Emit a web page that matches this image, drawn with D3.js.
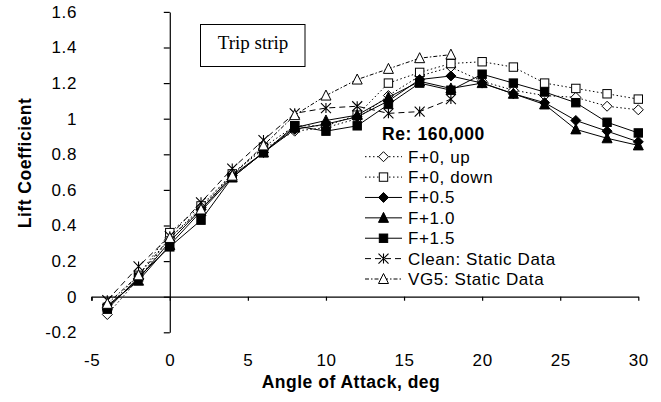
<!DOCTYPE html>
<html>
<head>
<meta charset="utf-8">
<script src="https://cdn.jsdelivr.net/npm/d3@7"></script>
<style>
  html, body { margin: 0; padding: 0; background: #fff; }
  svg text { font-family: "Liberation Sans", Arial, Helvetica, sans-serif; fill: #000; }
</style>
</head>
<body>
<svg id="chart" width="661" height="402"></svg>
<script>
// Angle of attack (deg) for the trip-strip runs
const angles = [-4, -2, 0, 2, 4, 6, 8, 10, 12, 14, 16, 18, 20, 22, 24, 26, 28, 30];
// Static reference runs stop at 18 deg
const staticAngles = [-4, -2, 0, 2, 4, 6, 8, 10, 12, 14, 16, 18];

const f0Up   = [-0.10, 0.10, 0.33, 0.50, 0.69, 0.83, 0.93, 0.95, 1.00, 1.13, 1.24, 1.29, 1.21, 1.16, 1.13, 1.12, 1.07, 1.05];
const f0Down = [-0.06, 0.12, 0.36, 0.51, 0.69, 0.84, 0.96, 0.96, 1.02, 1.20, 1.26, 1.31, 1.32, 1.29, 1.20, 1.17, 1.14, 1.11];
const f05    = [-0.06, 0.10, 0.31, 0.49, 0.68, 0.81, 0.94, 0.97, 1.01, 1.10, 1.22, 1.24, 1.20, 1.14, 1.09, 0.99, 0.93, 0.87];
const f10    = [-0.05, 0.09, 0.29, 0.48, 0.67, 0.81, 0.95, 0.99, 1.02, 1.12, 1.21, 1.17, 1.20, 1.14, 1.08, 0.94, 0.89, 0.85];
const f15    = [-0.07, 0.11, 0.28, 0.43, 0.67, 0.81, 0.96, 0.93, 0.96, 1.08, 1.20, 1.16, 1.25, 1.20, 1.15, 1.09, 0.98, 0.92];
const cleanStatic = [-0.02, 0.17, 0.34, 0.53, 0.72, 0.88, 1.03, 1.06, 1.07, 1.03, 1.04, 1.11];
const vg5Static   = [-0.04, 0.12, 0.33, 0.49, 0.68, 0.85, 1.02, 1.13, 1.22, 1.28, 1.34, 1.36];

const seriesNames = ["F+0, up", "F+0, down", "F+0.5", "F+1.0", "F+1.5", "Clean: Static Data", "VG5: Static Data"];
const xTicks = [-5, 0, 5, 10, 15, 20, 25, 30];
const yTicks = [-0.2, 0, 0.2, 0.4, 0.6, 0.8, 1, 1.2, 1.4, 1.6];
const legendTitle = "Re: 160,000";
const noteText = "Trip strip";

const svg = d3.select("#chart");

const x = d3.scaleLinear().domain([-5, 30]).range([91.7, 638.3]);
const y = d3.scaleLinear().domain([-0.2, 1.6]).range([332.3, 11.9]);

const dotted = "1.5,2.5";
const series = [
  { name: seriesNames[0], xs: angles, ys: f0Up,   marker: "diamond",  fill: "#fff", dash: dotted },
  { name: seriesNames[1], xs: angles, ys: f0Down, marker: "square",   fill: "#fff", dash: dotted },
  { name: seriesNames[2], xs: angles, ys: f05,    marker: "diamond",  fill: "#000", dash: null },
  { name: seriesNames[3], xs: angles, ys: f10,    marker: "triangle", fill: "#000", dash: null },
  { name: seriesNames[4], xs: angles, ys: f15,    marker: "square",   fill: "#000", dash: null },
  { name: seriesNames[5], xs: staticAngles, ys: cleanStatic, marker: "star", fill: "none", dash: "6,4" },
  { name: seriesNames[6], xs: staticAngles, ys: vg5Static,   marker: "triangle", fill: "#fff", dash: "4,2,1.5,2" }
];

// Plain hyphen-minus for negative tick labels
const fmt = d => String(+(+d).toFixed(1));

// Axes: x axis along Cl = 0, y axis at alpha = 0, labels pinned to the outer edges
const x0 = x(0), y0 = y(0);
const xAxis = svg.append("g")
  .attr("transform", `translate(0,${y0})`)
  .call(d3.axisBottom(x).tickValues(xTicks).tickSize(4).tickSizeOuter(0).tickFormat(fmt));
xAxis.select(".domain").attr("stroke", "#000").attr("stroke-width", 1.2);
xAxis.selectAll(".tick line").attr("stroke", "#000").attr("stroke-width", 1.2);
xAxis.selectAll(".tick text")
  .attr("y", 366 - y0).attr("dy", 0)
  .style("font-size", "17px").style("letter-spacing", "0.6px");

const yAxis = svg.append("g")
  .attr("transform", `translate(${x0},0)`)
  .call(d3.axisLeft(y).tickValues(yTicks).tickSize(6).tickSizeOuter(0).tickFormat(fmt));
yAxis.select(".domain").attr("stroke", "#000").attr("stroke-width", 1.2);
yAxis.selectAll(".tick line").attr("stroke", "#000").attr("stroke-width", 1.2);
yAxis.selectAll(".tick text")
  .attr("x", 77 - x0)
  .style("font-size", "17px").style("letter-spacing", "0.6px");
// small end tick at the left end of the x axis
svg.append("line").attr("x1", x(-5)).attr("x2", x(-5)).attr("y1", y0).attr("y2", y0 + 4)
  .attr("stroke", "#000").attr("stroke-width", 1.2);

// Axis titles
svg.append("text")
  .attr("x", 351).attr("y", 388)
  .attr("text-anchor", "middle")
  .style("font-size", "17.5px").style("font-weight", "bold").style("letter-spacing", "0.5px")
  .text("Angle of Attack, deg");
svg.append("text")
  .attr("transform", "translate(31,163) rotate(-90)")
  .attr("text-anchor", "middle")
  .style("font-size", "17.5px").style("font-weight", "bold").style("letter-spacing", "0.5px")
  .text("Lift Coefficient");

// Annotation box
svg.append("rect")
  .attr("x", 200.5).attr("y", 24.5).attr("width", 104.5).attr("height", 42)
  .attr("fill", "#fff").attr("stroke", "#000").attr("stroke-width", 1);
svg.append("text")
  .attr("x", 253).attr("y", 49).attr("text-anchor", "middle")
  .style("font-family", "'Liberation Serif', 'Times New Roman', serif")
  .style("font-size", "19px")
  .text(noteText);

// Marker shapes
function drawMarker(g, type, cx, cy, fill) {
  if (type === "diamond") {
    const r = 5;
    g.append("path").attr("d", `M${cx},${cy - r}L${cx + r},${cy}L${cx},${cy + r}L${cx - r},${cy}Z`)
      .attr("fill", fill).attr("stroke", "#000").attr("stroke-width", 1);
  } else if (type === "square") {
    const h = 4.2;
    g.append("rect").attr("x", cx - h).attr("y", cy - h).attr("width", 2 * h).attr("height", 2 * h)
      .attr("fill", fill).attr("stroke", "#000").attr("stroke-width", 1);
  } else if (type === "triangle") {
    const h = 5;
    g.append("path").attr("d", `M${cx},${cy - h - 0.5}L${cx + h},${cy + h - 0.5}L${cx - h},${cy + h - 0.5}Z`)
      .attr("fill", fill).attr("stroke", "#000").attr("stroke-width", 1);
  } else if (type === "star") {
    const h = 5;
    g.append("path")
      .attr("d", `M${cx - h},${cy - h}L${cx + h},${cy + h}M${cx - h},${cy + h}L${cx + h},${cy - h}M${cx},${cy - h}L${cx},${cy + h}`)
      .attr("fill", "none").attr("stroke", "#000").attr("stroke-width", 1.1);
  }
}

const line = d3.line().x(d => x(d[0])).y(d => y(d[1]));
const plot = svg.append("g");
series.forEach(s => {
  const pts = s.xs.map((a, i) => [a, s.ys[i]]);
  const g = plot.append("g");
  g.append("path").attr("d", line(pts))
    .attr("fill", "none").attr("stroke", "#000").attr("stroke-width", 1)
    .attr("stroke-dasharray", s.dash);
  pts.forEach(p => drawMarker(g, s.marker, x(p[0]), y(p[1]), s.fill));
});

// Legend
const legend = svg.append("g");
legend.append("text")
  .attr("x", 382).attr("y", 140)
  .style("font-size", "17.5px").style("font-weight", "bold").style("letter-spacing", "0.6px")
  .text(legendTitle);
const rowY = d3.scaleLinear().domain([0, 6]).range([156.7, 279]);
series.forEach((s, i) => {
  const cy = rowY(i);
  const g = legend.append("g");
  g.append("line").attr("x1", 365).attr("x2", 402).attr("y1", cy).attr("y2", cy)
    .attr("stroke", "#000").attr("stroke-width", 1).attr("stroke-dasharray", s.dash);
  drawMarker(g, s.marker, 383.5, cy, s.fill);
  g.append("text").attr("x", 408).attr("y", cy + 6)
    .style("font-size", "17px").style("letter-spacing", "0.6px")
    .text(s.name);
});
</script>
</body>
</html>
